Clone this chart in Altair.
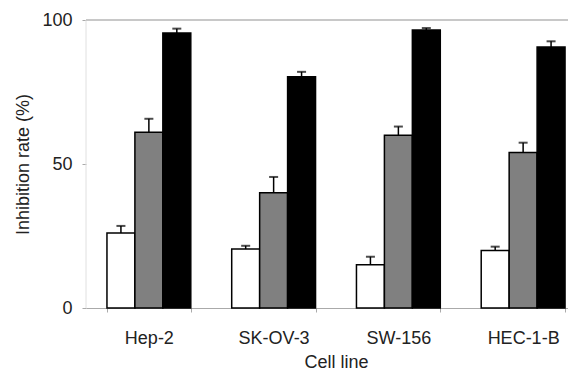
import altair as alt
import pandas as pd

cell_lines = ["Hep-2", "SK-OV-3", "SW-156", "HEC-1-B"]
series = ["A", "B", "C"]
colors = ["#ffffff", "#808080", "#000000"]
values = {
    "A": [26, 20.5, 15, 20],
    "B": [61, 40, 60, 54],
    "C": [95.5, 80.3, 96.5, 90.6],
}
upper = {
    "A": [28.5, 21.6, 17.8, 21.3],
    "B": [65.7, 45.5, 63, 57.4],
    "C": [97, 82, 97.2, 92.6],
}

rows = []
for s in series:
    for i, c in enumerate(cell_lines):
        rows.append({"cell": c, "series": s, "value": values[s][i], "upper": upper[s][i]})
df = pd.DataFrame(rows)

font = "Liberation Sans"
fs = 18
p = 0.328
x = alt.X("cell:N", sort=cell_lines, title="Cell line",
          scale=alt.Scale(paddingInner=p, paddingOuter=0.168, range=[0, 500]),
          axis=alt.Axis(labelAngle=0, labelFontSize=fs, titleFontSize=fs, labelFont=font,
                        titleFont=font, labelColor="#222", titleColor="#222",
                        titleFontWeight="normal",
                        domainColor="#aaaaaa", tickColor="#aaaaaa", tickBand="extent",
                        tickSize=4, labelPadding=17, titlePadding=6))
xo = alt.XOffset("series:N", sort=series, scale=alt.Scale(paddingInner=0, paddingOuter=0))
yscale = alt.Scale(domain=[0, 100], nice=False)

bars = alt.Chart(df).mark_bar(stroke="black", strokeWidth=1.5).encode(
    x=x,
    xOffset=xo,
    y=alt.Y("value:Q", scale=yscale, title="Inhibition rate (%)",
            axis=alt.Axis(values=[0, 50, 100], grid=False, labelFontSize=fs, titleFontSize=fs,
                          labelFont=font, titleFont=font, labelColor="#222", titleColor="#222",
                          titleFontWeight="normal",
                          domain=False, tickColor="#aaaaaa", tickSize=4, labelPadding=10,
                          titlePadding=9)),
    fill=alt.Fill("series:N", sort=series, scale=alt.Scale(domain=series, range=colors), legend=None),
)

err = alt.Chart(df).mark_rule(color="black", strokeWidth=1.5).encode(
    x=x, xOffset=xo, y=alt.Y("value:Q", scale=yscale), y2="upper:Q"
)
caps = alt.Chart(df).mark_tick(color="black", thickness=2, size=9).encode(
    x=x, xOffset=xo, y=alt.Y("upper:Q", scale=yscale)
)

top_df = pd.DataFrame({"v": [100]})
top = alt.Chart(top_df).mark_rule(color="#c8c8c8", strokeWidth=2).encode(y=alt.Y("v:Q", scale=yscale))
left = alt.Chart(top_df).mark_rule(color="#e0e0e0", strokeWidth=1).encode(
    x=alt.value(0), y=alt.value(0), y2=alt.value(288))

chart = alt.layer(left, top, err, bars, caps).properties(
    width=482, height=288,
    autosize=alt.AutoSizeParams(type="none"),
    padding={"left": 78, "top": 12, "right": 0, "bottom": 65},
).configure_view(stroke=None).configure_axisX(domainColor="#aaaaaa")

chart.save("out.html", embed_options={"renderer": "svg", "actions": False})
